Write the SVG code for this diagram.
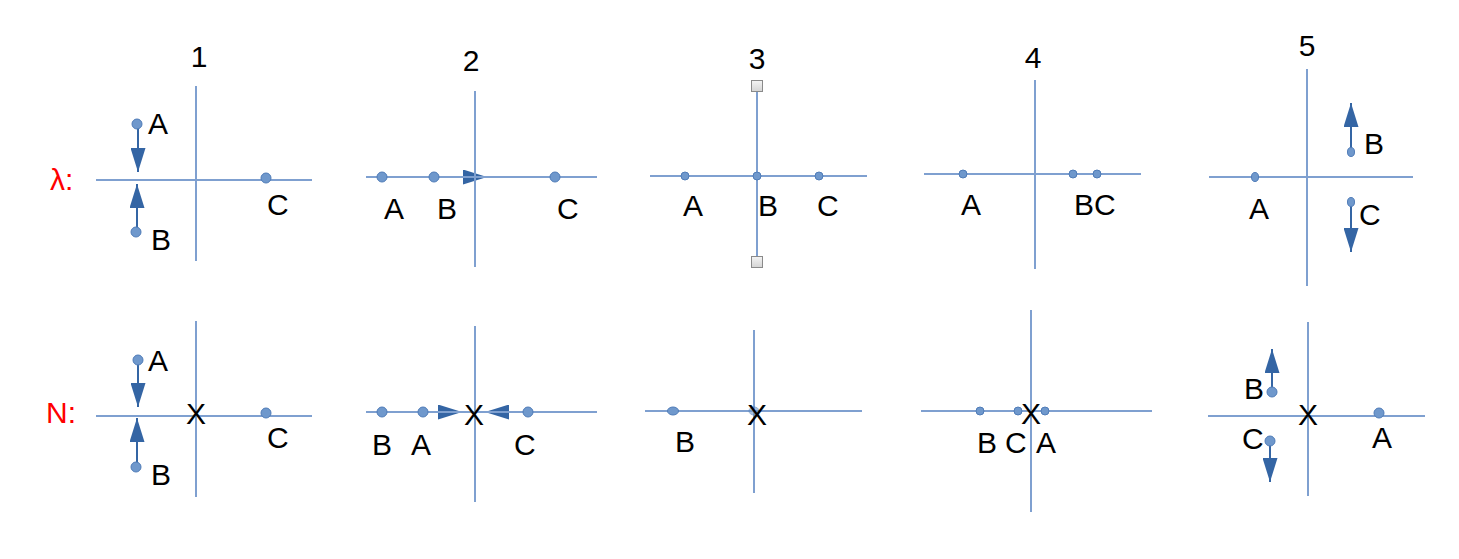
<svg xmlns="http://www.w3.org/2000/svg" width="1459" height="559" viewBox="0 0 1459 559">
<defs>
<marker id="ah" viewBox="0 0 24 15" refX="24" refY="7.5" markerWidth="24" markerHeight="15" markerUnits="userSpaceOnUse" orient="auto">
<path d="M0,0 L24,7.5 L0,15 Z" fill="#3465a4"/>
</marker>
<linearGradient id="hg" x1="0" y1="0" x2="0" y2="1">
<stop offset="0" stop-color="#f4f4f4"/>
<stop offset="1" stop-color="#d4d4d4"/>
</linearGradient>
</defs>
<style>
.ax{stroke:#7fa0d0;stroke-width:2;fill:none}
.ar{stroke:#3465a4;stroke-width:2;fill:none;marker-end:url(#ah)}
.pt{fill:#6f98cc;stroke:#4f7cb8;stroke-width:1}
.t{font-family:"Liberation Sans",Arial,sans-serif;font-size:30px;fill:#000}
.r{font-family:"Liberation Sans",Arial,sans-serif;font-size:30px;fill:#ff0000}
.h{fill:url(#hg);stroke:#8a8a8a;stroke-width:1}
</style>
<rect width="1459" height="559" fill="#ffffff"/>

<g id="row-labels">
<text class="r" x="50" y="190">λ:</text>
<text class="r" x="46" y="423">N:</text>
</g>

<g id="titles">
<text class="t" x="199" y="67" text-anchor="middle">1</text>
<text class="t" x="471" y="71" text-anchor="middle">2</text>
<text class="t" x="757" y="69" text-anchor="middle">3</text>
<text class="t" x="1033" y="68" text-anchor="middle">4</text>
<text class="t" x="1307" y="56" text-anchor="middle">5</text>
</g>

<g id="connectors">
<line class="ar" x1="138" y1="124" x2="138" y2="172"/>
<line class="ar" x1="137" y1="232" x2="137" y2="184"/>
<line class="ar" x1="434" y1="177" x2="487" y2="177"/>
<line class="ar" x1="1351" y1="152" x2="1351" y2="103"/>
<line class="ar" x1="1351" y1="202" x2="1351" y2="252"/>
<line class="ar" x1="138" y1="360" x2="138" y2="407"/>
<line class="ar" x1="137" y1="467" x2="137" y2="418"/>
<line class="ar" x1="423" y1="412" x2="462" y2="412"/>
<line class="ar" x1="528" y1="412" x2="485" y2="412"/>
<line class="ar" x1="1272" y1="392" x2="1272" y2="349"/>
<line class="ar" x1="1270" y1="441" x2="1270" y2="482"/>
</g>

<g id="lambda-1">
<line class="ax" x1="196" y1="86" x2="196" y2="261"/>
<line class="ax" x1="96" y1="180" x2="312" y2="180"/>
<circle class="pt" cx="137" cy="124" r="5"/>
<circle class="pt" cx="136" cy="232" r="5"/>
<circle class="pt" cx="266" cy="178" r="5"/>
<text class="t" x="148" y="134">A</text>
<text class="t" x="151" y="250">B</text>
<text class="t" x="267" y="215">C</text>
</g>

<g id="lambda-2">
<line class="ax" x1="475" y1="91" x2="475" y2="267"/>
<line class="ax" x1="366" y1="177" x2="597" y2="177"/>
<circle class="pt" cx="382" cy="177" r="5"/>
<circle class="pt" cx="434" cy="177" r="5"/>
<circle class="pt" cx="555" cy="177" r="5"/>
<text class="t" x="384" y="219">A</text>
<text class="t" x="437" y="219">B</text>
<text class="t" x="557" y="219">C</text>
</g>

<g id="lambda-3">
<line class="ax" x1="757" y1="87" x2="757" y2="262"/>
<line class="ax" x1="650" y1="176" x2="867" y2="176"/>
<rect class="h" x="751.5" y="80.5" width="11" height="11"/>
<rect class="h" x="751.5" y="256.5" width="11" height="11"/>
<circle class="pt" cx="685" cy="176" r="4"/>
<circle class="pt" cx="757" cy="176" r="4"/>
<circle class="pt" cx="819" cy="176" r="4"/>
<text class="t" x="683" y="216">A</text>
<text class="t" x="758" y="216">B</text>
<text class="t" x="817" y="216">C</text>
</g>

<g id="lambda-4">
<line class="ax" x1="1035" y1="80" x2="1035" y2="269"/>
<line class="ax" x1="924" y1="174" x2="1141" y2="174"/>
<circle class="pt" cx="963" cy="174" r="4"/>
<circle class="pt" cx="1073" cy="174" r="4"/>
<circle class="pt" cx="1097" cy="174" r="4"/>
<text class="t" x="961" y="215">A</text>
<text class="t" x="1074" y="215">BC</text>
</g>

<g id="lambda-5">
<line class="ax" x1="1307" y1="69" x2="1307" y2="286"/>
<line class="ax" x1="1209" y1="177" x2="1413" y2="177"/>
<ellipse class="pt" cx="1255" cy="177" rx="3.5" ry="4.5"/>
<ellipse class="pt" cx="1351" cy="152" rx="3.5" ry="4.5"/>
<ellipse class="pt" cx="1351" cy="202" rx="3.5" ry="4.5"/>
<text class="t" x="1249" y="219">A</text>
<text class="t" x="1364" y="154">B</text>
<text class="t" x="1359" y="225">C</text>
</g>

<g id="n-1">
<line class="ax" x1="196" y1="321" x2="196" y2="497"/>
<line class="ax" x1="96" y1="416" x2="312" y2="416"/>
<circle class="pt" cx="138" cy="360" r="5"/>
<circle class="pt" cx="136" cy="467" r="5"/>
<circle class="pt" cx="266" cy="413" r="5"/>
<text class="t" x="196" y="424" text-anchor="middle">X</text>
<text class="t" x="148" y="371">A</text>
<text class="t" x="151" y="485">B</text>
<text class="t" x="267" y="448">C</text>
</g>

<g id="n-2">
<line class="ax" x1="475" y1="326" x2="475" y2="502"/>
<line class="ax" x1="366" y1="412" x2="597" y2="412"/>
<circle class="pt" cx="382" cy="412" r="5"/>
<circle class="pt" cx="423" cy="412" r="5"/>
<circle class="pt" cx="528" cy="412" r="5"/>
<text class="t" x="474" y="425" text-anchor="middle">X</text>
<text class="t" x="372" y="455">B</text>
<text class="t" x="411" y="455">A</text>
<text class="t" x="514" y="455">C</text>
</g>

<g id="n-3">
<line class="ax" x1="754" y1="330" x2="754" y2="493"/>
<line class="ax" x1="645" y1="411" x2="862" y2="411"/>
<ellipse class="pt" cx="673" cy="411" rx="5.5" ry="4"/>
<ellipse class="pt" cx="754" cy="411" rx="5" ry="4" opacity="0.6"/>
<text class="t" x="757" y="425" text-anchor="middle">X</text>
<text class="t" x="675" y="452">B</text>
</g>

<g id="n-4">
<line class="ax" x1="1031" y1="310" x2="1031" y2="512"/>
<line class="ax" x1="921" y1="411" x2="1152" y2="411"/>
<circle class="pt" cx="980" cy="411" r="4"/>
<circle class="pt" cx="1018" cy="411" r="4"/>
<circle class="pt" cx="1045" cy="411" r="4"/>
<text class="t" x="1031" y="424" text-anchor="middle">X</text>
<text class="t" x="977" y="453">B</text>
<text class="t" x="1005" y="453">C</text>
<text class="t" x="1036" y="453">A</text>
</g>

<g id="n-5">
<line class="ax" x1="1308" y1="322" x2="1308" y2="496"/>
<line class="ax" x1="1208" y1="416" x2="1425" y2="416"/>
<circle class="pt" cx="1272" cy="392" r="5"/>
<circle class="pt" cx="1270" cy="441" r="5"/>
<circle class="pt" cx="1379" cy="413" r="5"/>
<text class="t" x="1308" y="425" text-anchor="middle">X</text>
<text class="t" x="1244" y="399">B</text>
<text class="t" x="1242" y="449">C</text>
<text class="t" x="1372" y="448">A</text>
</g>
</svg>
